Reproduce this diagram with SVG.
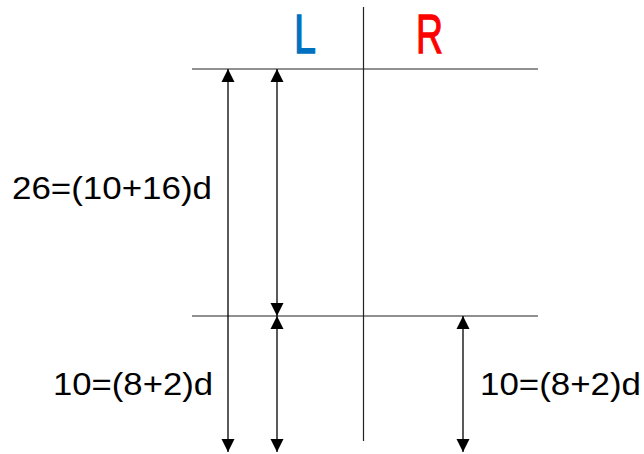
<svg xmlns="http://www.w3.org/2000/svg" width="644" height="454" viewBox="0 0 644 454">
<defs>
<style>
.ln{stroke:#222;stroke-width:1.2;fill:none}
.ar{stroke:#000;stroke-width:1.3;fill:none;marker-start:url(#ah);marker-end:url(#ah)}
.lbl{font-family:"Liberation Sans",Arial,sans-serif;font-size:32px;fill:#000}
.hd{font-family:"Liberation Sans",Arial,sans-serif;font-size:55px;stroke-width:1.3}
</style>
<marker id="ah" markerUnits="userSpaceOnUse" markerWidth="14" markerHeight="14" refX="13" refY="7" orient="auto-start-reverse">
<path d="M0,0.5 L13,7 L0,13.5 z" fill="#000"/>
</marker>
</defs>
<rect width="644" height="454" fill="#fff"/>
<g id="grid">
<line class="ln" x1="192" y1="69" x2="538" y2="69"/>
<line class="ln" x1="192" y1="316" x2="538" y2="316"/>
<line class="ln" x1="363.5" y1="7" x2="363.5" y2="441"/>
</g>
<g id="head-L"><text class="hd" x="294" y="53" fill="#0070C0" stroke="#0070C0" textLength="22" lengthAdjust="spacingAndGlyphs">L</text></g>
<g id="head-R"><text class="hd" x="416" y="53" fill="#FF0000" stroke="#FF0000" textLength="27" lengthAdjust="spacingAndGlyphs">R</text></g>
<g id="connectors">
<line class="ar" x1="228" y1="69" x2="228" y2="452"/>
<line class="ar" x1="277" y1="69" x2="277" y2="316"/>
<line class="ar" x1="277" y1="316" x2="277" y2="452"/>
<line class="ar" x1="463" y1="316" x2="463" y2="452"/>
</g>
<g id="label-26"><text class="lbl" x="12" y="199" textLength="200" lengthAdjust="spacingAndGlyphs">26=(10+16)d</text></g>
<g id="label-10L"><text class="lbl" x="53" y="395" textLength="160" lengthAdjust="spacingAndGlyphs">10=(8+2)d</text></g>
<g id="label-10R"><text class="lbl" x="480" y="395" textLength="161" lengthAdjust="spacingAndGlyphs">10=(8+2)d</text></g>
</svg>
